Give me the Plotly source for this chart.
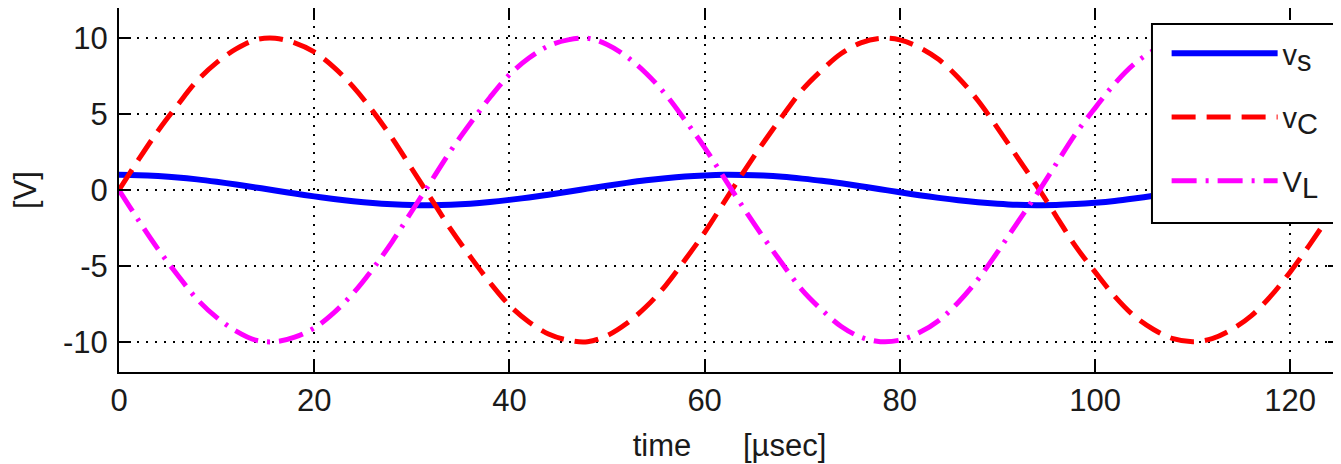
import plotly.graph_objects as go

# time samples [µsec]
t = [0, 2, 4, 6, 8, 10, 12, 14, 16, 18, 20, 22, 24, 26, 28, 30, 32, 34, 36, 38,
     40, 42, 44, 46, 48, 50, 52, 54, 56, 58, 60, 62, 64, 66, 68, 70, 72, 74, 76, 78,
     80, 82, 84, 86, 88, 90, 92, 94, 96, 98, 100, 102, 104, 106, 108, 110, 112, 114, 116, 118,
     120, 122, 124, 126]

v_s = [1.0, 0.98, 0.92, 0.83, 0.70, 0.54, 0.36, 0.17, -0.03, -0.23, -0.42, -0.59, -0.74, -0.86, -0.94, -0.99,
       -1.0, -0.97, -0.90, -0.79, -0.65, -0.49, -0.31, -0.11, 0.09, 0.28, 0.47, 0.64, 0.78, 0.89, 0.96, 1.0,
       0.99, 0.95, 0.87, 0.75, 0.61, 0.44, 0.25, 0.05, -0.15, -0.34, -0.52, -0.68, -0.81, -0.91, -0.98, -1.0,
       -0.99, -0.93, -0.84, -0.72, -0.56, -0.38, -0.19, 0.0, 0.20, 0.39, 0.57, 0.72, 0.84, 0.94, 0.99, 1.0]

v_C = [0.0, 2.0, 3.9, 5.6, 7.2, 8.4, 9.3, 9.9, 10.0, 9.7, 9.1, 8.1, 6.8, 5.2, 3.4, 1.4,
       -0.6, -2.6, -4.4, -6.1, -7.6, -8.7, -9.5, -9.9, -10.0, -9.6, -8.8, -7.7, -6.3, -4.6, -2.8, -0.8,
       1.2, 3.1, 4.9, 6.6, 7.9, 9.0, 9.7, 10.0, 9.9, 9.4, 8.6, 7.4, 5.9, 4.1, 2.2, 0.3,
       -1.7, -3.7, -5.4, -7.0, -8.3, -9.2, -9.8, -10.0, -9.8, -9.2, -8.3, -7.0, -5.4, -3.6, -1.7, 0.3]

v_L = [0.0, -2.0, -3.9, -5.6, -7.2, -8.4, -9.3, -9.9, -10.0, -9.7, -9.1, -8.1, -6.8, -5.2, -3.4, -1.4,
       0.6, 2.6, 4.4, 6.1, 7.6, 8.7, 9.5, 9.9, 10.0, 9.6, 8.8, 7.7, 6.3, 4.6, 2.8, 0.8,
       -1.2, -3.1, -4.9, -6.6, -7.9, -9.0, -9.7, -10.0, -9.9, -9.4, -8.6, -7.4, -5.9, -4.1, -2.2, -0.3,
       1.7, 3.7, 5.4, 7.0, 8.3, 9.2, 9.8, 10.0, 9.8, 9.2, 8.3, 7.0, 5.4, 3.6, 1.7, -0.3]

x_ticks = [0, 20, 40, 60, 80, 100, 120]
y_ticks = [-10, -5, 0, 5, 10]

FONT = "Liberation Sans"
TXT = "#1a1a1a"
SUB = '<sub><span style="font-size:29px">{}</span></sub>'

fig = go.Figure()
fig.add_trace(go.Scatter(x=t, y=v_s, mode="lines", name="v" + SUB.format("s"), legendgroup="a",
                         line=dict(color="#0000FF", width=6, shape="spline")))
fig.add_trace(go.Scatter(x=t, y=v_C, mode="lines", name="v" + SUB.format("C"), legendgroup="b",
                         line=dict(color="#FF0000", width=5, dash="24px,11px", shape="spline")))
fig.add_trace(go.Scatter(x=t, y=v_L, mode="lines", name="V" + SUB.format("L"), legendgroup="c",
                         line=dict(color="#FF00FF", width=5, dash="25px,9px,3px,9px", shape="spline")))

axis_common = dict(
    showline=True, linecolor="black", linewidth=2, mirror="ticks",
    ticks="inside", ticklen=12, tickwidth=2, tickcolor="black",
    showgrid=True, gridcolor="black", gridwidth=1.5, griddash="2px,7px",
    zeroline=False, automargin=False,
    tickfont=dict(family=FONT, size=31, color=TXT),
)

fig.update_xaxes(range=[0, 125.1], tickvals=x_ticks, ticktext=[str(v) for v in x_ticks],
                 title=dict(text="time\u00a0\u00a0\u00a0\u00a0\u00a0\u00a0[\u00b5sec]",
                            font=dict(family=FONT, size=31, color=TXT), standoff=17),
                 **axis_common)
fig.update_yaxes(range=[-12, 12], tickvals=y_ticks, ticktext=[str(v) for v in y_ticks],
                 ticklabelstandoff=3,
                 title=dict(text="[V]", font=dict(family=FONT, size=31, color=TXT), standoff=23),
                 **axis_common)

# legend frame (white box with black border) behind the legend entries
fig.add_shape(type="rect", xref="paper", yref="paper",
              x0=0.846, x1=0.9967, y0=0.409, y1=0.956,
              line=dict(color="black", width=2), fillcolor="white", layer="above")

fig.update_layout(
    width=1333, height=456,
    margin=dict(l=111, r=1, t=0, b=92),
    plot_bgcolor="white", paper_bgcolor="white",
    showlegend=True,
    legend=dict(x=0.858, y=0.945, xanchor="left", yanchor="top",
                bgcolor="rgba(0,0,0,0)", borderwidth=0,
                font=dict(family=FONT, size=29, color=TXT),
                itemwidth=106, tracegroupgap=23),
)

fig.write_html("out.html")
